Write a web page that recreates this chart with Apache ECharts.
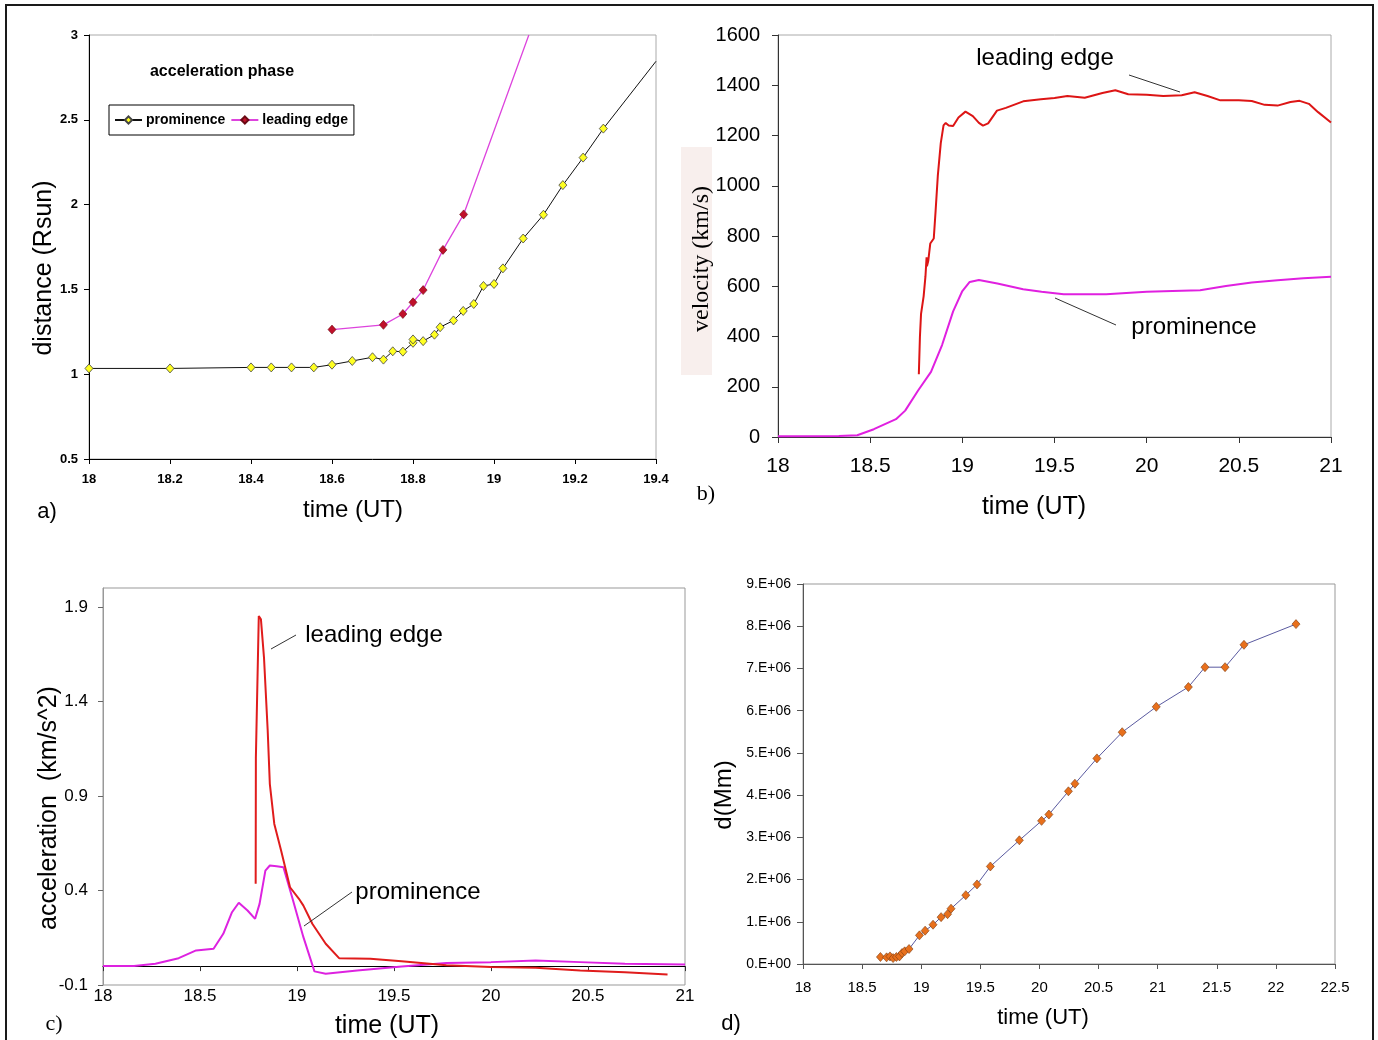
<!DOCTYPE html>
<html>
<head>
<meta charset="utf-8">
<script src="https://cdn.jsdelivr.net/npm/echarts@6/dist/echarts.min.js"></script>
<style>
  html, body { margin: 0; padding: 0; background: #fff; }
  #main { width: 1378px; height: 1040px; }
</style>
</head>
<body>
<div id="main"></div>
<script>
// a) distance, acceleration phase
var distPromT = [18, 18.2, 18.4, 18.45, 18.5, 18.555, 18.6, 18.65, 18.7, 18.727, 18.75, 18.775, 18.8, 18.8, 18.825, 18.853, 18.867, 18.9, 18.924, 18.95, 18.974, 19.0, 19.022, 19.072, 19.122, 19.17, 19.22, 19.27, 19.4];
var distPromR = [1.034, 1.034, 1.04, 1.04, 1.04, 1.04, 1.056, 1.078, 1.1, 1.086, 1.135, 1.133, 1.185, 1.205, 1.195, 1.233, 1.277, 1.317, 1.373, 1.414, 1.52, 1.532, 1.624, 1.8, 1.94, 2.115, 2.277, 2.448, 2.845];
var distEdgeT = [18.6, 18.727, 18.775, 18.8, 18.825, 18.874, 18.925, 19.086];
var distEdgeR = [1.263, 1.291, 1.355, 1.424, 1.496, 1.733, 1.942, 3.0];

// b) velocity
var velEdgeT = [18.764, 18.77, 18.776, 18.79, 18.8, 18.806, 18.808, 18.815, 18.826, 18.845, 18.855, 18.867, 18.883, 18.898, 18.91, 18.926, 18.95, 18.979, 19.017, 19.057, 19.09, 19.112, 19.14, 19.188, 19.236, 19.33, 19.426, 19.5, 19.57, 19.664, 19.76, 19.83, 19.9, 20.0, 20.09, 20.19, 20.26, 20.33, 20.4, 20.5, 20.57, 20.64, 20.71, 20.78, 20.83, 20.88, 20.93, 21.0];
var velEdgeV = [250, 400, 490, 560, 640, 715, 680, 700, 770, 790, 900, 1040, 1170, 1240, 1250, 1240, 1238, 1272, 1295, 1277, 1250, 1239, 1248, 1299, 1310, 1336, 1344, 1349, 1357, 1350, 1369, 1380, 1364, 1362, 1357, 1360, 1372, 1357, 1340, 1340, 1337, 1322, 1319, 1333, 1338, 1326, 1293, 1252];
var velPromT = [18, 18.33, 18.43, 18.52, 18.64, 18.69, 18.76, 18.83, 18.89, 18.95, 19.0, 19.04, 19.09, 19.19, 19.33, 19.43, 19.55, 19.78, 20.0, 20.14, 20.29, 20.43, 20.57, 20.71, 20.85, 21.0];
var velPromV = [3, 4, 7, 31, 71, 105, 185, 259, 366, 500, 581, 617, 625, 611, 588, 578, 568, 568, 578, 581, 584, 601, 615, 624, 632, 638];

// c) acceleration
var accEdgeT = [18.787, 18.788, 18.803, 18.814, 18.83, 18.849, 18.86, 18.883, 18.918, 18.964, 19.01, 19.033, 19.079, 19.148, 19.217, 19.378, 19.539, 19.77, 20.0, 20.23, 20.46, 20.69, 20.91];
var accEdgeA = [0.435, 1.1, 1.852, 1.835, 1.63, 1.245, 0.963, 0.752, 0.611, 0.417, 0.356, 0.32, 0.224, 0.118, 0.042, 0.039, 0.026, 0.004, -0.005, -0.009, -0.023, -0.032, -0.044];
var accPromT = [18, 18.16, 18.27, 18.39, 18.48, 18.57, 18.62, 18.665, 18.7, 18.745, 18.784, 18.807, 18.837, 18.86, 18.895, 18.93, 18.975, 19.033, 19.09, 19.148, 19.31, 19.54, 19.77, 20.0, 20.23, 20.46, 20.69, 21.0];
var accPromA = [0, 0, 0.012, 0.042, 0.083, 0.092, 0.171, 0.285, 0.335, 0.294, 0.25, 0.329, 0.505, 0.532, 0.528, 0.523, 0.364, 0.153, -0.028, -0.04, -0.023, -0.002, 0.016, 0.021, 0.03, 0.021, 0.012, 0.009];

// d) distance in Mm
var dT = [18.655, 18.707, 18.736, 18.762, 18.79, 18.816, 18.838, 18.86, 18.897, 18.985, 19.033, 19.1, 19.168, 19.223, 19.252, 19.377, 19.472, 19.585, 19.83, 20.018, 20.08, 20.245, 20.3, 20.486, 20.7, 20.988, 21.26, 21.4, 21.57, 21.73, 22.17];
var dMm = [0.166e6, 0.158e6, 0.18e6, 0.14e6, 0.166e6, 0.18e6, 0.26e6, 0.3e6, 0.355e6, 0.678e6, 0.789e6, 0.93e6, 1.11e6, 1.18e6, 1.31e6, 1.63e6, 1.885e6, 2.31e6, 2.93e6, 3.39e6, 3.54e6, 4.09e6, 4.27e6, 4.87e6, 5.49e6, 6.09e6, 6.56e6, 7.03e6, 7.03e6, 7.56e6, 8.05e6];

function zip(ts, vs) {
    return ts.map(function (t, i) { return [t, vs[i]]; });
}
// last point of the panel a curves has no marker (curve leaves the frame)
function zipOpenEnd(ts, vs) {
    return ts.map(function (t, i) {
        return i == ts.length - 1 ? { value: [t, vs[i]], symbol: 'none' } : [t, vs[i]];
    });
}

var SANS = '"Liberation Sans", Arial, sans-serif';
var SERIF = '"Liberation Serif", "Times New Roman", serif';

function txt(x, y, s, size, fam, rot, weight) {
    return {
        type: 'text', x: x, y: y, rotation: rot || 0, z: 10,
        style: {
            text: s, fill: '#000', font: (weight || 'normal') + ' ' + size + 'px ' + fam,
            textAlign: 'center', textVerticalAlign: 'middle', align: 'center', verticalAlign: 'middle'
        }
    };
}
function seg(x1, y1, x2, y2) {
    return { type: 'line', z: 10, shape: { x1: x1, y1: y1, x2: x2, y2: y2 }, style: { stroke: '#333', lineWidth: 1 } };
}
function plain(v) { return String(+v.toFixed(2)); }

var chart = echarts.init(document.getElementById('main'));

var option = {
    backgroundColor: '#fff',
    animation: false,
    grid: [
        { left: 89, top: 35, width: 567, height: 424, show: true, borderColor: '#aaa', borderWidth: 1 },
        { left: 778, top: 35, width: 553, height: 402, show: true, borderColor: '#aaa', borderWidth: 1 },
        { left: 103, top: 588, width: 582, height: 397, show: true, borderColor: '#999', borderWidth: 1 },
        { left: 803, top: 584, width: 532, height: 380, show: true, borderColor: '#999', borderWidth: 1 }
    ],
    legend: {
        left: 109, top: 105,
        data: ['prominence', 'leading edge'],
        selectedMode: false,
        orient: 'horizontal',
        itemWidth: 27, itemHeight: 9, itemGap: 5,
        padding: [8, 6, 8, 5],
        borderColor: '#000', borderWidth: 1, borderRadius: 0,
        textStyle: { fontFamily: SANS, fontWeight: 'bold', fontSize: 14, color: '#000', padding: [0, 0, 0, -1] }
    },
    xAxis: [
        {
            gridIndex: 0, type: 'value', min: 18, max: 19.4, interval: 0.2,
            splitLine: { show: false },
            axisLine: { lineStyle: { color: '#000', width: 1 } },
            axisTick: { length: 5, lineStyle: { color: '#000' } },
            axisLabel: { margin: 14, color: '#000', fontFamily: SANS, fontWeight: 'bold', fontSize: 13, formatter: plain }
        },
        {
            gridIndex: 1, type: 'value', min: 18, max: 21, interval: 0.5,
            splitLine: { show: false },
            axisLine: { lineStyle: { color: '#333', width: 1 } },
            axisTick: { length: 6, lineStyle: { color: '#333' } },
            axisLabel: { margin: 19, color: '#000', fontFamily: SANS, fontSize: 21, formatter: plain }
        },
        {
            gridIndex: 2, type: 'value', min: 18, max: 21, interval: 0.5,
            splitLine: { show: false },
            axisLine: { onZero: true, lineStyle: { color: '#000', width: 1 } },
            axisTick: { length: 5, lineStyle: { color: '#333' } },
            axisLabel: { margin: 3, color: '#000', fontFamily: SANS, fontSize: 17, formatter: plain }
        },
        {
            gridIndex: 3, type: 'value', min: 18, max: 22.5, interval: 0.5,
            splitLine: { show: false },
            axisLine: { lineStyle: { color: '#555', width: 1 } },
            axisTick: { length: 5, lineStyle: { color: '#555' } },
            axisLabel: { margin: 16, color: '#000', fontFamily: SANS, fontSize: 15, formatter: plain }
        }
    ],
    yAxis: [
        {
            gridIndex: 0, type: 'value', min: 0.5, max: 3, interval: 0.5,
            splitLine: { show: false },
            axisLine: { show: true, lineStyle: { color: '#000', width: 1 } },
            axisTick: { show: true, length: 5, lineStyle: { color: '#000' } },
            axisLabel: { margin: 11, color: '#000', fontFamily: SANS, fontWeight: 'bold', fontSize: 13, formatter: plain }
        },
        {
            gridIndex: 1, type: 'value', min: 0, max: 1600, interval: 200,
            splitLine: { show: false },
            axisLine: { show: true, lineStyle: { color: '#333', width: 1 } },
            axisTick: { show: true, length: 6, lineStyle: { color: '#333' } },
            axisLabel: { margin: 18, color: '#000', fontFamily: SANS, fontSize: 20, formatter: plain }
        },
        {
            gridIndex: 2, type: 'value', min: -0.1, max: 2.0, interval: 0.5,
            splitLine: { show: false },
            axisLine: { show: true, onZero: false, lineStyle: { color: '#999', width: 1 } },
            axisTick: { show: true, length: 5, lineStyle: { color: '#666' } },
            axisLabel: { margin: 15, color: '#000', fontFamily: SANS, fontSize: 17, showMaxLabel: false, formatter: plain }
        },
        {
            gridIndex: 3, type: 'value', min: 0, max: 9e6, interval: 1e6,
            splitLine: { show: false },
            axisLine: { show: true, lineStyle: { color: '#555', width: 1 } },
            axisTick: { show: true, length: 6, lineStyle: { color: '#555' } },
            axisLabel: {
                margin: 12, color: '#000', fontFamily: SANS, fontSize: 14,
                formatter: function (v) { return v == 0 ? '0.E+00' : Math.round(v / 1e6) + '.E+06'; }
            }
        }
    ],
    series: [
        {
            name: 'prominence', type: 'line', xAxisIndex: 0, yAxisIndex: 0,
            data: zipOpenEnd(distPromT, distPromR),
            symbol: 'diamond', symbolSize: [8, 9], showAllSymbol: true,
            lineStyle: { color: '#111', width: 1 },
            itemStyle: { color: '#ffff22', borderColor: '#444', borderWidth: 0.8 },
            z: 3
        },
        {
            name: 'leading edge', type: 'line', xAxisIndex: 0, yAxisIndex: 0,
            data: zipOpenEnd(distEdgeT, distEdgeR),
            symbol: 'diamond', symbolSize: [8, 9], showAllSymbol: true,
            lineStyle: { color: '#dd44dd', width: 1.3 },
            itemStyle: { color: '#c0102a', borderColor: '#6a0a14', borderWidth: 0.6 },
            z: 3
        },
        {
            name: 'leading edge velocity', type: 'line', xAxisIndex: 1, yAxisIndex: 1,
            data: zip(velEdgeT, velEdgeV), symbol: 'none',
            lineStyle: { color: '#dd1515', width: 2 }
        },
        {
            name: 'prominence velocity', type: 'line', xAxisIndex: 1, yAxisIndex: 1,
            data: zip(velPromT, velPromV), symbol: 'none',
            lineStyle: { color: '#e020e0', width: 2 }
        },
        {
            name: 'prominence acceleration', type: 'line', xAxisIndex: 2, yAxisIndex: 2,
            data: zip(accPromT, accPromA), symbol: 'none',
            lineStyle: { color: '#dd22e0', width: 2 }
        },
        {
            name: 'leading edge acceleration', type: 'line', xAxisIndex: 2, yAxisIndex: 2,
            data: zip(accEdgeT, accEdgeA), symbol: 'none',
            lineStyle: { color: '#e01c1c', width: 2 }
        },
        {
            name: 'd', type: 'line', xAxisIndex: 3, yAxisIndex: 3,
            data: zip(dT, dMm),
            symbol: 'diamond', symbolSize: [8, 9], showAllSymbol: true,
            lineStyle: { color: '#5a5aa0', width: 1 },
            itemStyle: { color: '#e8701c', borderColor: '#7a3a10', borderWidth: 0.6 }
        }
    ],
    graphic: [
        // outer frame
        { type: 'rect', z: 0, shape: { x: 6, y: 5, width: 1367, height: 1045 }, style: { fill: 'none', stroke: '#1a1a1a', lineWidth: 2 } },
        // panel a
        txt(222, 72, 'acceleration phase', 16, '"Liberation Sans Narrow", ' + SANS, 0, 'bold'),
        txt(44, 268, 'distance (Rsun)', 25, SANS, Math.PI / 2),
        txt(353, 510, 'time (UT)', 24, SANS),
        txt(47, 512, 'a)', 22, SANS),
        // panel b
        { type: 'rect', z: 1, shape: { x: 681, y: 147, width: 31, height: 228 }, style: { fill: '#f8efed' } },
        txt(702, 259, 'velocity (km/s)', 24, SERIF, Math.PI / 2),
        txt(1034, 507, 'time (UT)', 25, SANS),
        txt(706, 494, 'b)', 22, SERIF),
        txt(1045, 58, 'leading edge', 24, SANS),
        seg(1129, 75, 1180, 92),
        txt(1194, 327, 'prominence', 24, SANS),
        seg(1055, 298, 1116, 325),
        // panel c
        txt(49, 808, 'acceleration  (km/s^2)', 25, SANS, Math.PI / 2),
        txt(387, 1026, 'time (UT)', 25, SANS),
        txt(54, 1024, 'c)', 22, SERIF),
        txt(374, 635, 'leading edge', 24, SANS),
        seg(271, 649, 296, 635),
        txt(418, 892, 'prominence', 24, SANS),
        seg(304, 926, 352, 892),
        // panel d
        txt(724, 795, 'd(Mm)', 24, SANS, Math.PI / 2),
        txt(1043, 1018, 'time (UT)', 22, SANS),
        txt(731, 1024, 'd)', 22, SANS)
    ]
};

chart.setOption(option);
</script>
</body>
</html>
